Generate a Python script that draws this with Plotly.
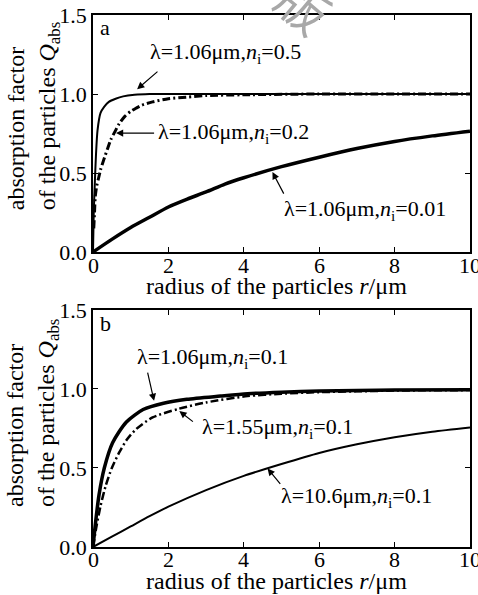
import plotly.graph_objects as go

# ---------------- data ----------------
# panel a
r_a05 = [0, 0.02, 0.05, 0.08, 0.12, 0.2, 0.3, 0.42, 0.6, 0.8, 1.1, 1.5, 2, 3, 4, 6, 8, 10]
q_a05 = [0, 0.25, 0.45, 0.62, 0.77, 0.88, 0.92, 0.95, 0.97, 0.985, 0.995, 1.0, 1.0, 1.0, 1.0, 1.0, 1.0, 1.0]

r_a02 = [0.02, 0.04, 0.06, 0.1, 0.15, 0.2, 0.28, 0.38, 0.47, 0.6, 0.69, 0.85, 1.0, 1.14, 1.3, 1.58, 2.0, 2.47, 3.0, 4, 6, 8, 10]
q_a02 = [0.15, 0.25, 0.35, 0.42, 0.47, 0.52, 0.58, 0.65, 0.71, 0.77, 0.81, 0.86, 0.89, 0.91, 0.93, 0.95, 0.97, 0.98, 0.99, 0.995, 1.0, 1.0, 1.0]

r_a001 = [0, 0.5, 1, 1.5, 2, 2.5, 3, 3.5, 4, 5, 6, 7, 8, 9, 10]
q_a001 = [0, 0.08, 0.155, 0.22, 0.285, 0.335, 0.38, 0.43, 0.47, 0.54, 0.60, 0.655, 0.70, 0.735, 0.765]

# panel b
r_b106 = [0, 0.07, 0.16, 0.3, 0.52, 0.88, 1.33, 1.87, 2.49, 3.38, 4.1, 5, 6, 7, 8, 10]
q_b106 = [0, 0.16, 0.33, 0.5, 0.66, 0.79, 0.87, 0.91, 0.935, 0.955, 0.97, 0.98, 0.987, 0.99, 0.993, 0.995]

r_b155 = [0, 0.1, 0.2, 0.34, 0.5, 0.7, 0.9, 1.14, 1.58, 2.28, 3.0, 4.1, 5, 6, 7, 8, 10]
q_b155 = [0, 0.14, 0.26, 0.39, 0.5, 0.6, 0.68, 0.745, 0.82, 0.875, 0.915, 0.955, 0.97, 0.98, 0.985, 0.99, 0.993]

r_b106l = [0, 0.5, 1, 1.5, 2, 3, 4, 5, 6, 7, 8, 9, 10]
q_b106l = [0, 0.065, 0.13, 0.195, 0.255, 0.36, 0.45, 0.525, 0.595, 0.65, 0.695, 0.73, 0.757]

x_ticks = [0, 2, 4, 6, 8, 10]
x_tick_text = ["0", "2", "4", "6", "8", "10"]
y_ticks = [0.0, 0.5, 1.0, 1.5]

FONT = "Liberation Serif"

fig = go.Figure()

def add(x, y, xa, ya, width, dash="solid"):
    fig.add_trace(go.Scatter(x=x, y=y, mode="lines", xaxis=xa, yaxis=ya,
                             line=dict(color="black", width=width, dash=dash,
                                       shape="spline", smoothing=0.7),
                             showlegend=False, hoverinfo="skip"))

add(r_a05, q_a05, "x", "y", 2)
add(r_a02, q_a02, "x", "y", 3, "8px,3px,2px,3px")
add(r_a001, q_a001, "x", "y", 3.5)
add(r_b106, q_b106, "x2", "y2", 3.5)
add(r_b155, q_b155, "x2", "y2", 2.5, "8px,3px,2px,3px")
add(r_b106l, q_b106l, "x2", "y2", 2)

ax_common = dict(showline=True, linecolor="black", linewidth=1.5, mirror="ticks",
                 ticks="inside", ticklen=5, tickcolor="black", showgrid=False,
                 zeroline=False, ticklabeloverflow="allow", automargin=False,
                 tickfont=dict(family=FONT, size=22, color="black"))

fig.update_layout(
    width=478, height=595,
    margin=dict(l=93, r=8, t=15, b=48),
    paper_bgcolor="white", plot_bgcolor="white",
    font=dict(family=FONT, color="black"),
    xaxis=dict(domain=[0, 1], anchor="y", range=[0, 10], tickvals=x_ticks,
               showticklabels=False, **ax_common),
    yaxis=dict(domain=[0.5545, 1.0], anchor="x", range=[0, 1.5], tickvals=y_ticks,
               tickformat=".1f", **ax_common),
    xaxis2=dict(domain=[0, 1], anchor="y2", range=[0, 10], tickvals=x_ticks,
                showticklabels=False, **ax_common),
    yaxis2=dict(domain=[0, 0.4455], anchor="x2", range=[0, 1.5], tickvals=y_ticks,
                tickformat=".1f", **ax_common),
)

ann = []
TF = dict(family=FONT, size=22, color="black")

# x tick labels, placed close under the axis line
for xa, yp in [("x", 0.530), ("x2", -0.0244)]:
    for tv, tt in zip(x_ticks, x_tick_text):
        ann.append(dict(xref=xa, yref="paper", x=tv, y=yp, text=tt, showarrow=False,
                        xanchor="center", yanchor="middle", font=TF))

def label(xr, yr, x, y, text):
    ann.append(dict(xref=xr, yref=yr, x=x, y=y, text=text, showarrow=False,
                    xanchor="left", yanchor="middle", font=TF))

def arrow(xr, yr, x, y, ax, ay):
    ann.append(dict(xref=xr, yref=yr, x=x, y=y, axref=xr, ayref=yr, ax=ax, ay=ay,
                    text="", showarrow=True, arrowhead=2, arrowsize=1.2,
                    arrowwidth=1.2, arrowcolor="black"))

# panel a
label("x", "y", 0.13, 1.424, "a")
label("x", "y", 1.45, 1.26, "λ=1.06μm,<i>n</i><sub>i</sub>=0.5")
arrow("x", "y", 1.17, 1.03, 1.75, 1.15)
label("x", "y", 1.66, 0.753, "λ=1.06μm,<i>n</i><sub>i</sub>=0.2")
arrow("x", "y", 0.61, 0.753, 1.66, 0.753)
label("x", "y", 5.0, 0.266, "λ=1.06μm,<i>n</i><sub>i</sub>=0.01")
arrow("x", "y", 4.76, 0.506, 5.08, 0.36)

# panel b
label("x2", "y2", 0.13, 1.415, "b")
label("x2", "y2", 1.12, 1.195, "λ=1.06μm,<i>n</i><sub>i</sub>=0.1")
arrow("x2", "y2", 1.62, 0.925, 1.44, 1.113)
label("x2", "y2", 2.85, 0.75, "λ=1.55μm,<i>n</i><sub>i</sub>=0.1")
arrow("x2", "y2", 2.29, 0.86, 2.69, 0.786)
label("x2", "y2", 4.93, 0.314, "λ=10.6μm,<i>n</i><sub>i</sub>=0.1")
arrow("x2", "y2", 4.63, 0.497, 5.0, 0.39)

# axis titles
XT = "radius of the particles <i>r</i>/μm"
YT = "absorption factor<br>of the particles <i>Q</i><sub>abs</sub>"
for yp in [0.4905, -0.064]:
    ann.append(dict(xref="paper", yref="paper", x=0.488, y=yp, text=XT, showarrow=False,
                    xanchor="center", yanchor="middle",
                    font=dict(family=FONT, size=24, color="black")))
for yp in [0.810, 0.252]:
    ann.append(dict(xref="paper", yref="paper", x=-0.159, y=yp, text=YT, showarrow=False,
                    xanchor="center", yanchor="middle", textangle=-90, align="left",
                    font=dict(family=FONT, size=24, color="black")))

# faint watermark (partly cut at the top edge)
ann.append(dict(xref="paper", yref="paper", x=0.562, y=1.019, text="版", showarrow=False,
                xanchor="center", yanchor="middle", textangle=40,
                font=dict(family="Noto Sans CJK SC", size=50, color="#a8a8a8")))

fig.update_layout(annotations=ann)
fig.write_html("out.html", config={"displayModeBar": False},
               post_script="document.body.style.margin='0';")
